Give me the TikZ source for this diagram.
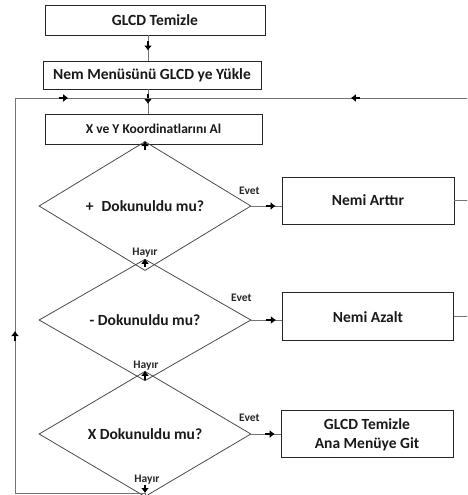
\documentclass[tikz,border=0pt]{standalone}
\usepackage{fontspec}
\setmainfont{Carlito}
\usetikzlibrary{arrows.meta,decorations.markings,shapes.geometric}
\begin{document}
\begin{tikzpicture}[x=1pt,y=-1pt,
  box/.style={draw=black!85,line width=0.9pt,fill=white,inner sep=0pt,
    font=\bfseries\fontsize{15.5}{19}\selectfont,text=black!90,align=center},
  dia/.style={diamond,draw=black!70,line width=0.8pt,inner sep=0pt,
    minimum width=212pt,minimum height=114pt,
    font=\bfseries\fontsize{15.5}{19}\selectfont,text=black!90},
  lbl/.style={inner sep=0pt,font=\bfseries\fontsize{11.5}{13}\selectfont,text=black!85},
  conn/.style={draw=black!55,line width=0.9pt},
  midarr/.style={postaction={decorate},decoration={markings,
    mark=at position #1 with {\arrow{Rectangle[length=5pt,width=2.6pt,color=black,sep=-0.5pt]Latex[length=5pt,width=8pt,color=black]}}}},
  midarr/.default=0.5,
  endarr/.style={-{Rectangle[length=4pt,width=2.6pt,color=black,sep=-0.5pt]Latex[length=5pt,width=8pt,color=black]}}
]
\useasboundingbox (0,0) rectangle (467,495);
\fill[white] (0,0) rectangle (467,495);
\clip (0,0) rectangle (467,495);

\coordinate (ax) at (148,0);
\coordinate (bl) at (15,493);
\coordinate (tl) at (15,98);
\coordinate (tr) at (470,98);
\coordinate (jn) at (148,98);

\node[box,minimum width=220pt,minimum height=30pt] (b1) at (155,20) {GLCD Temizle};
\node[box,minimum width=218pt,minimum height=28pt] (b2) at (152,75) {Nem Menüsünü GLCD ye Yükle};
\node[box,minimum width=217pt,minimum height=30pt,font=\bfseries\fontsize{13.5}{16}\selectfont] (b3) at (153.5,129) {X ve Y Koordinatlarını Al};

\node[dia] (d1) at (145,206) {+\hspace{8pt}Dokunuldu mu?\hspace{8pt}};
\node[dia] (d2) at (145,320) {- Dokunuldu mu?\hspace{10pt}};
\node[dia] (d3) at (145,434) {X Dokunuldu mu?\hspace{10pt}};

\node[box,minimum width=172pt,minimum height=47pt] (a1) at (368,200.5) {Nemi Arttır};
\node[box,minimum width=171pt,minimum height=48pt] (a2) at (368,316.7) {Nemi Azalt};
\node[box,minimum width=172pt,minimum height=47pt] (a3) at (367,434.3) {GLCD Temizle\\Ana Menüye Git};

% main flow
\draw[conn,midarr=0.6] (b1.south -| ax) -- (b2.north -| ax);
\draw[conn,midarr=0.6] (b2.south -| ax) -- (b3.north -| ax);
\draw[conn,endarr] (b3.south -| d1.north) -- (d1.north);
\draw[conn,endarr] ([yshift=9pt]d1.south) -- (d2.north);
\draw[conn,endarr] ([yshift=9pt]d2.south) -- (d3.north);
\draw[conn,endarr] ([yshift=9pt]d3.south) -- (d3.south |- bl);

% Evet branches
\draw[conn,midarr=0.8] (d1.east) -- (d1.east -| a1.west);
\draw[conn,midarr=0.8] (d2.east) -- (d2.east -| a2.west);
\draw[conn,midarr=0.8] (d3.east) -- (d3.east -| a3.west);

% loop back
\draw[conn] (d3.south) -- (d3.south |- bl) -- (bl);
\draw[conn,midarr=0.41] (bl) -- (tl);
\draw[conn,midarr=0.4] (tl) -- (jn);
\draw[conn] (a1.east) -- (a1.east -| tr) -- (tr);
\draw[conn] (a2.east) -- (a2.east -| tr) -- (a1.east -| tr);
\draw[conn,midarr=0.37] (tr) -- (jn);

% labels
\node[lbl] at ([shift={(-2,-15)}]d1.east) {Evet};
\node[lbl] at ([shift={(-10,-22)}]d2.east) {Evet};
\node[lbl] at ([shift={(-2,-16)}]d3.east) {Evet};
\node[lbl] at ([shift={(0,-18)}]d1.south) {Hayır};
\node[lbl] at ([shift={(1,-16)}]d2.south) {Hayır};
\node[lbl] at ([shift={(2,-17)}]d3.south) {Hayır};
\end{tikzpicture}
\end{document}
